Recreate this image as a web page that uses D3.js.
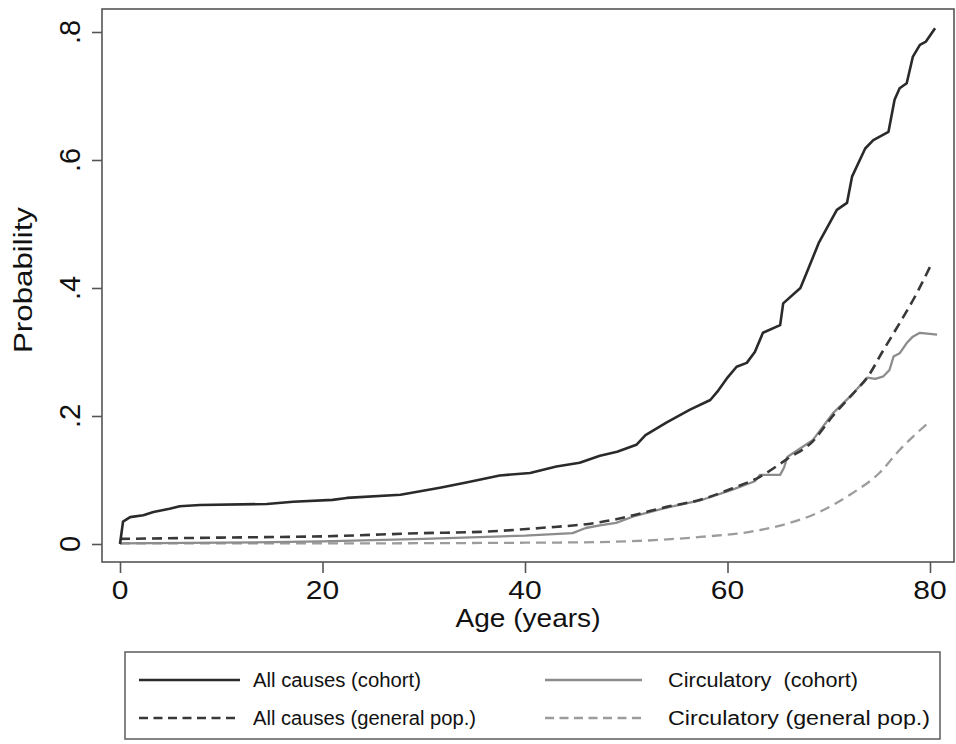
<!DOCTYPE html>
<html>
<head>
<meta charset="utf-8">
<script src="https://cdn.jsdelivr.net/npm/d3@7"></script>
<style>
  html, body { margin: 0; padding: 0; background: #fff; }
  svg { display: block; }
  text { font-family: "Liberation Sans", Arial, Helvetica, sans-serif; fill: #111; }
</style>
</head>
<body>
<svg id="chart" width="956" height="744"></svg>
<script>
// ---- data (age in years, cumulative probability) ----
const allCohortAge = [0, 0.3, 1, 2.3, 3.3, 4.9, 5.9, 7.9, 14.5, 17.1, 21, 22.4, 27.7, 31.6, 34.2, 37.5, 40.5, 43.1, 45.4, 47.4, 49.1, 51, 51.9, 54, 56.3, 58.3, 59, 60, 60.9, 61.9, 62.7, 63.5, 65.2, 65.5, 67.2, 67.8, 69, 70.8, 71.8, 72.3, 73.6, 74.4, 75.9, 76.5, 77, 77.7, 78.3, 79, 79.6, 80.5];
const allCohortProb = [0, 0.035, 0.042, 0.045, 0.050, 0.055, 0.059, 0.061, 0.0625, 0.066, 0.069, 0.072, 0.077, 0.088, 0.096, 0.107, 0.111, 0.121, 0.127, 0.138, 0.144, 0.155, 0.17, 0.19, 0.21, 0.225, 0.238, 0.26, 0.277, 0.283, 0.30, 0.33, 0.342, 0.376, 0.40, 0.423, 0.47, 0.522, 0.533, 0.574, 0.618, 0.631, 0.644, 0.694, 0.712, 0.72, 0.761, 0.78, 0.785, 0.806];

const allGenAge = [0, 10, 20, 30, 35.6, 41.5, 47.4, 49.1, 50.7, 54, 57.3, 60.5, 63.2, 65.9, 68.4, 70.4, 72.4, 73.8, 75.4, 77, 78.7, 80];
const allGenProb = [0.008, 0.010, 0.012, 0.017, 0.019, 0.025, 0.034, 0.039, 0.045, 0.058, 0.069, 0.087, 0.105, 0.133, 0.16, 0.20, 0.235, 0.26, 0.303, 0.345, 0.392, 0.433];

const circCohortAge = [0, 10, 20, 30, 40, 44.7, 46, 47.4, 49, 50.7, 54, 57.3, 60.5, 62.7, 63.2, 65.2, 65.6, 65.9, 68.4, 70.4, 72.4, 73.8, 74.6, 75.4, 76, 76.4, 77, 77.7, 78.3, 79, 80.7];
const circCohortProb = [0.001, 0.002, 0.004, 0.008, 0.013, 0.017, 0.025, 0.029, 0.033, 0.043, 0.057, 0.068, 0.085, 0.098, 0.108, 0.108, 0.12, 0.136, 0.162, 0.204, 0.235, 0.26, 0.258, 0.262, 0.272, 0.293, 0.298, 0.314, 0.324, 0.33, 0.327];

const circGenAge = [0, 20, 40, 47.4, 57.3, 62.2, 65.5, 68.8, 72.1, 75, 77, 79.8];
const circGenProb = [0.001, 0.001, 0.002, 0.003, 0.011, 0.019, 0.03, 0.048, 0.077, 0.111, 0.147, 0.189];

const xTicks = [0, 20, 40, 60, 80];
const xTickLabels = ["0", "20", "40", "60", "80"];
const yTicks = [0, 0.2, 0.4, 0.6, 0.8];
const yTickLabels = ["0", ".2", ".4", ".6", ".8"];

const seriesNames = ["All causes (cohort)", "Circulatory  (cohort)", "All causes (general pop.)", "Circulatory (general pop.)"];

// ---- layout ----
const svg = d3.select("#chart");
const frame = {left: 102, right: 954, top: 9, bottom: 562};
const x = d3.scaleLinear().domain([0, 80]).range([120, 930]);
const y = d3.scaleLinear().domain([0, 0.8]).range([544, 32]);

const styles = {
  allCohort:  {stroke: "#2a2a2a", width: 2.6, dash: null},
  allGen:     {stroke: "#383838", width: 2.6, dash: "10,6"},
  circCohort: {stroke: "#8c8c8c", width: 2.3, dash: null},
  circGen:    {stroke: "#9c9c9c", width: 2.3, dash: "10,6"}
};

function zip(a, b) { return a.map((v, i) => [v, b[i]]); }

// frame
svg.append("rect")
  .attr("x", frame.left).attr("y", frame.top)
  .attr("width", frame.right - frame.left).attr("height", frame.bottom - frame.top)
  .attr("fill", "none").attr("stroke", "#555").attr("stroke-width", 1.6);

// axes (ticks only)
const yAxis = svg.append("g").attr("transform", `translate(${frame.left},0)`)
  .call(d3.axisLeft(y).tickValues(yTicks).tickSize(10).tickSizeOuter(0).tickFormat(""));
yAxis.select(".domain").remove();
yAxis.selectAll(".tick line").attr("stroke", "#555").attr("stroke-width", 1.6);

const xAxis = svg.append("g").attr("transform", `translate(0,${frame.bottom})`)
  .call(d3.axisBottom(x).tickValues(xTicks).tickSize(11).tickSizeOuter(0).tickFormat(""));
xAxis.select(".domain").remove();
xAxis.selectAll(".tick line").attr("stroke", "#555").attr("stroke-width", 1.6);

// x tick labels
xTicks.forEach((t, i) => {
  svg.append("g").attr("transform", `translate(${x(t)},599) scale(1.2,1)`)
    .append("text").attr("text-anchor", "middle").attr("font-size", 25).text(xTickLabels[i]);
});
// y tick labels (rotated)
yTicks.forEach((t, i) => {
  svg.append("text").attr("text-anchor", "middle").attr("font-size", 29)
    .attr("transform", `translate(80,${y(t)}) rotate(-90)`).text(yTickLabels[i]);
});

// axis titles
svg.append("text").attr("x", 528).attr("y", 627).attr("text-anchor", "middle")
  .attr("font-size", 26).attr("textLength", 145).attr("lengthAdjust", "spacingAndGlyphs")
  .text("Age (years)");
svg.append("text").attr("text-anchor", "middle").attr("font-size", 25.5)
  .attr("transform", "translate(32,280) rotate(-90)")
  .attr("textLength", 146).attr("lengthAdjust", "spacingAndGlyphs")
  .text("Probability");

// lines
const lineLin = d3.line().x(d => x(d[0])).y(d => y(d[1])).curve(d3.curveLinear);
const lineSmooth = d3.line().x(d => x(d[0])).y(d => y(d[1])).curve(d3.curveMonotoneX);

function drawSeries(data, st, gen) {
  svg.append("path").datum(data)
    .attr("d", gen)
    .attr("fill", "none")
    .attr("stroke", st.stroke)
    .attr("stroke-width", st.width)
    .attr("stroke-linejoin", "round")
    .attr("stroke-dasharray", st.dash);
}
drawSeries(zip(circGenAge, circGenProb), styles.circGen, lineSmooth);
drawSeries(zip(circCohortAge, circCohortProb), styles.circCohort, lineLin);
drawSeries(zip(allGenAge, allGenProb), styles.allGen, lineSmooth);
drawSeries(zip(allCohortAge, allCohortProb), styles.allCohort, lineLin);

// legend
const lg = svg.append("g");
lg.append("rect").attr("x", 125).attr("y", 652).attr("width", 815).attr("height", 87)
  .attr("fill", "#fff").attr("stroke", "#666").attr("stroke-width", 1.6);

const legendItems = [
  {name: seriesNames[0], st: styles.allCohort, lx1: 139, lx2: 240, tx: 253, ly: 680, tl: 168},
  {name: seriesNames[1], st: styles.circCohort, lx1: 545, lx2: 642, tx: 668, ly: 680, tl: 190},
  {name: seriesNames[2], st: styles.allGen, lx1: 139, lx2: 240, tx: 253, ly: 718, tl: 223},
  {name: seriesNames[3], st: styles.circGen, lx1: 545, lx2: 642, tx: 668, ly: 718, tl: 262}
];
legendItems.forEach(it => {
  lg.append("line").attr("x1", it.lx1).attr("x2", it.lx2).attr("y1", it.ly).attr("y2", it.ly)
    .attr("stroke", it.st.stroke).attr("stroke-width", it.st.width)
    .attr("stroke-dasharray", it.st.dash ? "9,5.5" : null);
  lg.append("text").attr("x", it.tx).attr("y", it.ly + 7).attr("font-size", 20)
    .attr("textLength", it.tl).attr("lengthAdjust", "spacingAndGlyphs")
    .style("white-space", "pre")
    .text(it.name);
});
</script>
</body>
</html>
